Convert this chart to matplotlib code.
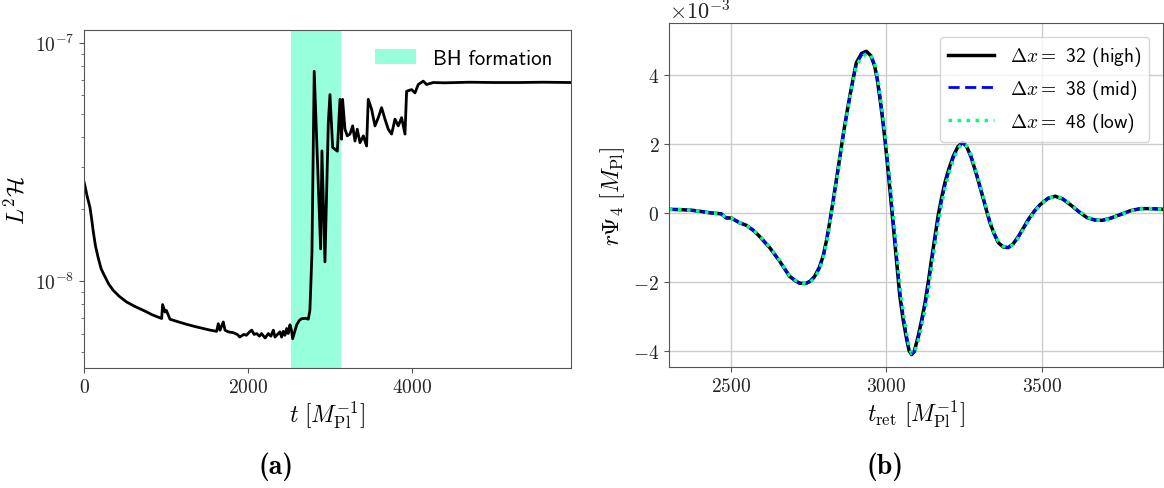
import numpy as np
import matplotlib.pyplot as plt
from matplotlib.ticker import NullFormatter, ScalarFormatter

plt.rcParams['font.family'] = 'serif'
plt.rcParams['font.serif'] = ['cmr10']
plt.rcParams['mathtext.fontset'] = 'cm'
plt.rcParams['axes.formatter.use_mathtext'] = True

# (a) constraint violation vs time
t_cons = [0, 12, 40, 73, 95, 114, 140, 175, 210, 256, 300, 358, 430, 520, 620, 724,
          830, 947, 959, 988, 1005, 1049, 1150, 1252, 1355, 1455, 1540, 1618, 1638,
          1659, 1699, 1720, 1760, 1821, 1870, 1900, 1923, 1950, 1980, 2020, 2045, 2075,
          2106, 2140, 2165, 2187, 2210, 2248, 2280, 2309, 2330, 2350, 2390, 2410, 2431,
          2450, 2472, 2490, 2512, 2530, 2545, 2594, 2625, 2655, 2700, 2736, 2755, 2765,
          2780, 2808, 2886, 2902, 2939, 2980, 3000, 3033, 3090, 3122, 3142, 3154, 3183,
          3211, 3244, 3277, 3305, 3333, 3366, 3407, 3447, 3467, 3508, 3549, 3589, 3630,
          3671, 3711, 3752, 3793, 3833, 3874, 3915, 3935, 3996, 4037, 4077, 4138, 4179,
          4260, 4400, 4700, 5000, 5300, 5600, 5940]
l2h = [2.6e-8, 2.5e-8, 2.25e-8, 2.03e-8, 1.8e-8, 1.6e-8, 1.4e-8, 1.24e-8, 1.12e-8,
       1.04e-8, 9.7e-9, 9.1e-9, 8.6e-9, 8.14e-9, 7.8e-9, 7.51e-9, 7.2e-9, 6.94e-9,
       7.94e-9, 7.39e-9, 7.5e-9, 6.89e-9, 6.72e-9, 6.56e-9, 6.42e-9, 6.3e-9, 6.2e-9,
       6.13e-9, 6.6e-9, 6.2e-9, 6.71e-9, 6.2e-9, 6.1e-9, 6.05e-9, 5.95e-9, 5.8e-9,
       5.87e-9, 5.95e-9, 5.9e-9, 6.1e-9, 6.2e-9, 5.95e-9, 6.0e-9, 5.85e-9, 6.0e-9,
       5.87e-9, 5.75e-9, 6.0e-9, 5.85e-9, 6.2e-9, 5.8e-9, 5.9e-9, 6.1e-9, 5.8e-9,
       6.13e-9, 5.9e-9, 6.3e-9, 6.0e-9, 6.53e-9, 6.2e-9, 5.71e-9, 6.53e-9, 6.8e-9,
       6.93e-9, 6.95e-9, 6.9e-9, 7.5e-9, 9.26e-9, 1.3e-8, 7.58e-8, 1.36e-8, 3.51e-8,
       1.2e-8, 4.62e-8, 6.05e-8, 3.63e-8, 3.5e-8, 5.78e-8, 3.93e-8, 5.78e-8, 4.33e-8,
       4.06e-8, 4.13e-8, 4.47e-8, 3.86e-8, 4.33e-8, 3.8e-8, 4.06e-8, 3.68e-8, 5.78e-8,
       5.25e-8, 4.47e-8, 4.84e-8, 5.33e-8, 4.77e-8, 4.33e-8, 4.13e-8, 4.77e-8, 4.47e-8,
       4.84e-8, 4.13e-8, 6.25e-8, 6.35e-8, 6.15e-8, 6.67e-8, 6.89e-8, 6.67e-8, 6.8e-8,
       6.78e-8, 6.82e-8, 6.8e-8, 6.8e-8, 6.82e-8, 6.8e-8]
bh_start, bh_end = 2530, 3140

# (b) waveform, units of 1e-3
t_ret = [2300, 2340, 2376, 2410, 2430, 2468, 2484, 2500, 2527, 2548, 2570, 2591, 2624,
         2656, 2688, 2705, 2720, 2740, 2755, 2769, 2784, 2796, 2807, 2817, 2828, 2839,
         2850, 2860, 2871, 2882, 2893, 2903, 2920, 2935, 2950, 2962, 2970, 2978, 2987,
         2995, 3003, 3011, 3019, 3027, 3035, 3043, 3054, 3065, 3073, 3081, 3090, 3102,
         3113, 3124, 3135, 3145, 3156, 3166, 3177, 3188, 3200, 3215, 3230, 3245, 3258,
         3272, 3288, 3300, 3312, 3333, 3346, 3360, 3376, 3392, 3408, 3425, 3440, 3457,
         3476, 3495, 3520, 3543, 3567, 3591, 3618, 3645, 3670, 3694, 3720, 3753, 3785,
         3817, 3850, 3890]
psi_high = [0.10, 0.09, 0.07, 0.03, 0.0, -0.03, -0.15, -0.15, -0.29, -0.36, -0.50,
            -0.68, -1.01, -1.40, -1.84, -1.96, -2.04, -2.05, -1.98, -1.84, -1.58, -1.26,
            -0.80, -0.29, 0.33, 0.97, 1.62, 2.22, 2.82, 3.38, 3.90, 4.35, 4.62, 4.68,
            4.55, 4.25, 3.88, 3.38, 2.75, 2.12, 1.42, 0.68, -0.10, -0.87, -1.65, -2.42,
            -3.12, -3.67, -4.00, -4.11, -4.00, -3.58, -3.12, -2.61, -1.98, -1.35, -0.70,
            -0.10, 0.42, 0.87, 1.25, 1.64, 1.92, 2.04, 1.92, 1.62, 1.16, 0.78, 0.39,
            -0.29, -0.60, -0.87, -0.99, -1.01, -0.90, -0.68, -0.45, -0.19, 0.05, 0.24,
            0.42, 0.48, 0.40, 0.24, 0.04, -0.14, -0.21, -0.22, -0.16, -0.05, 0.06, 0.12,
            0.12, 0.10]
psi_mid = [0.10, 0.09, 0.07, 0.03, 0.0, -0.03, -0.15, -0.15, -0.29, -0.36, -0.50,
           -0.68, -1.01, -1.40, -1.83, -1.95, -2.04, -2.05, -1.99, -1.86, -1.61, -1.29,
           -0.84, -0.32, 0.29, 0.93, 1.58, 2.18, 2.78, 3.34, 3.86, 4.30, 4.58, 4.65,
           4.56, 4.28, 3.93, 3.45, 2.84, 2.22, 1.54, 0.82, 0.05, -0.71, -1.49, -2.26,
           -2.99, -3.58, -3.94, -4.10, -4.04, -3.66, -3.21, -2.71, -2.10, -1.47, -0.82,
           -0.21, 0.32, 0.78, 1.18, 1.59, 1.89, 2.03, 1.93, 1.65, 1.19, 0.81, 0.42,
           -0.26, -0.58, -0.85, -0.98, -1.01, -0.91, -0.70, -0.47, -0.21, 0.04, 0.23,
           0.42, 0.48, 0.41, 0.25, 0.05, -0.13, -0.21, -0.22, -0.17, -0.06, 0.05, 0.12,
           0.12, 0.10]
psi_low = [0.10, 0.09, 0.07, 0.03, 0.0, -0.03, -0.14, -0.15, -0.28, -0.36, -0.49,
           -0.66, -0.99, -1.38, -1.82, -1.94, -2.03, -2.06, -2.01, -1.89, -1.65, -1.34,
           -0.90, -0.36, 0.25, 0.89, 1.54, 2.14, 2.74, 3.30, 3.82, 4.25, 4.52, 4.60,
           4.58, 4.32, 3.98, 3.52, 2.92, 2.32, 1.66, 0.96, 0.20, -0.55, -1.33, -2.10,
           -2.88, -3.50, -3.88, -4.08, -4.06, -3.72, -3.30, -2.82, -2.22, -1.60, -0.95,
           -0.33, 0.22, 0.70, 1.12, 1.54, 1.86, 2.01, 1.94, 1.68, 1.22, 0.84, 0.46,
           -0.23, -0.56, -0.83, -0.97, -1.01, -0.92, -0.72, -0.49, -0.23, 0.03, 0.22,
           0.42, 0.48, 0.42, 0.26, 0.06, -0.12, -0.21, -0.22, -0.17, -0.06, 0.05, 0.11,
           0.12, 0.10]

spine_col = '#555555'

fig = plt.figure(figsize=(11.64, 4.89), dpi=100)
ax1 = fig.add_axes([84/1164, 120/489, 487/1164, 338/489])
ax2 = fig.add_axes([669/1164, 121/489, 494/1164, 344/489])

# left panel
ax1.axvspan(bh_start, bh_end, color='aquamarine', alpha=0.8, lw=0, label='BH formation')
ax1.plot(t_cons, l2h, color='black', lw=2)
ax1.set_yscale('log')
ax1.set_xlim(0, 5940)
ax1.set_ylim(4.3e-9, 1.13e-7)
ax1.yaxis.set_minor_formatter(NullFormatter())
ax1.set_xticks([0, 2000, 4000])
ax1.set_xlabel(r'$t\ [M_{\rm Pl}^{-1}]$', fontsize=17, labelpad=2)
ax1.set_ylabel(r'$L^2\mathcal{H}$', fontsize=17, labelpad=4)
ax1.legend(loc='upper right', frameon=False, prop={'family': 'cmss10', 'size': 15})

# right panel
ax2.plot(t_ret, np.array(psi_high) * 1e-3, color='black', lw=2.5,
         label=r'$\Delta x =$ 32 (high)')
ax2.plot(t_ret, np.array(psi_mid) * 1e-3, color='blue', lw=2, ls=(0, (4, 2)),
         label=r'$\Delta x =$ 38 (mid)')
ax2.plot(t_ret, np.array(psi_low) * 1e-3, color='springgreen', lw=2.5, ls=(0, (1, 1.6)),
         label=r'$\Delta x =$ 48 (low)')
ax2.set_xlim(2300, 3890)
ax2.set_ylim(-4.47e-3, 5.5e-3)
ax2.set_xticks([2500, 3000, 3500])
ax2.set_yticks([-4e-3, -2e-3, 0, 2e-3, 4e-3])
fmt = ScalarFormatter(useMathText=True)
fmt.set_powerlimits((-2, 2))
ax2.yaxis.set_major_formatter(fmt)
ax2.yaxis.get_offset_text().set_fontsize(16)
ax2.grid(True, color='#cccccc', lw=1)
ax2.set_axisbelow(True)
ax2.set_xlabel(r'$t_{\rm ret}\ [M_{\rm Pl}^{-1}]$', fontsize=17, labelpad=2)
ax2.set_ylabel(r'$r\Psi_4\ [M_{\rm Pl}]$', fontsize=17, labelpad=4)
ax2.legend(loc='upper right', prop={'family': 'cmss10', 'size': 14},
           handlelength=2.4, labelspacing=0.45, borderaxespad=0.7)

for ax in (ax1, ax2):
    for s in ax.spines.values():
        s.set_color(spine_col)
    ax.tick_params(which='both', colors=spine_col, labelcolor='#222222', labelsize=14)

fig.text(276/1164, 1 - 467/489, '(a)', family='cmb10', fontsize=20, ha='center', va='center')
fig.text(885/1164, 1 - 467/489, '(b)', family='cmb10', fontsize=20, ha='center', va='center')

fig.savefig('out.png', dpi=100)
